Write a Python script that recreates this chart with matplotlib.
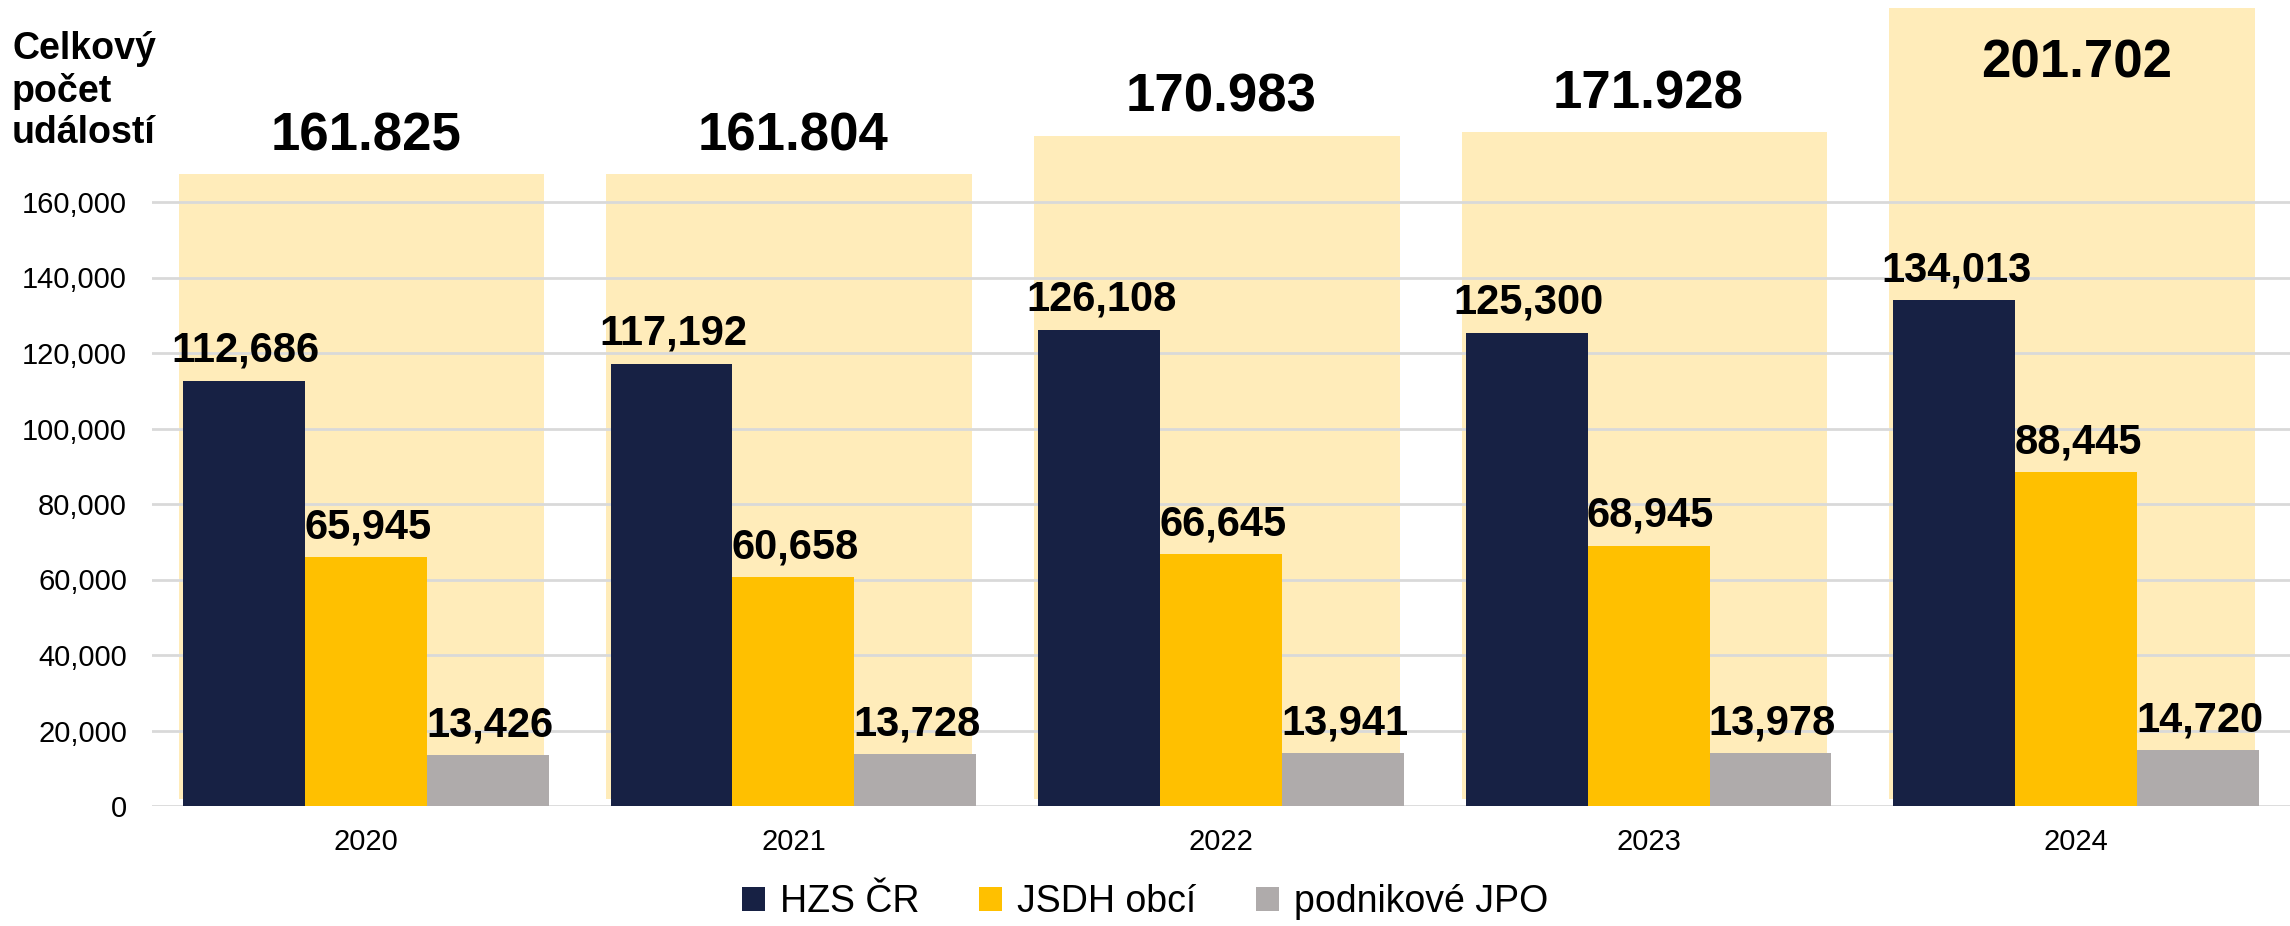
import matplotlib
matplotlib.use("Agg")
import matplotlib.pyplot as plt
from matplotlib.patches import Patch
import numpy as np

plt.rcParams['font.family'] = ['Liberation Sans', 'DejaVu Sans']

years = ["2020", "2021", "2022", "2023", "2024"]
hzs = [112686, 117192, 126108, 125300, 134013]
jsdh = [65945, 60658, 66645, 68945, 88445]
podnik = [13426, 13728, 13941, 13978, 14720]
totals = [161825, 161804, 170983, 171928, 201702]
series_names = ["HZS ČR", "JSDH obcí", "podnikové JPO"]
yticks = [0, 20000, 40000, 60000, 80000, 100000, 120000, 140000, 160000]

c_navy = "#172144"
c_gold = "#FFC000"
c_gray = "#AFABAB"
c_bg = "#FFECBA"
c_grid = "#D9D9D9"

W, H = 2290, 926
fig = plt.figure(figsize=(W / 100, H / 100), dpi=100)
ax_left = 152 / W
ax_bottom = (H - 806) / H
ax_height = 806 / H
ax = fig.add_axes([ax_left, ax_bottom, 1 - ax_left, ax_height])
ax2 = ax.twinx()
ax.set_zorder(ax2.get_zorder() + 1)
ax.patch.set_visible(False)

x = np.arange(len(years))
bw = 0.285

# background totals (secondary axis)
units_per_px = 240.0
y2_lo = 10182
y2lim = (y2_lo, y2_lo + 806 * units_per_px)
bg_bottom = y2_lo + 7 * units_per_px
ax2.bar(x - 0.01, np.array(totals) - bg_bottom, bottom=bg_bottom, width=0.855,
        color=c_bg, zorder=1)
ax2.set_ylim(*y2lim)
ax2.set_yticks([])
for s in ax2.spines.values():
    s.set_visible(False)

for xi, v in zip(x, totals):
    txt = f"{v:,}".replace(",", ".")
    top_px = (y2lim[1] - v) / units_per_px  # distance from figure top
    if top_px < 70:
        off = -(77 - top_px)
    else:
        off = 24
    ax2.annotate(txt, (xi, v), xytext=(0, off), textcoords="offset pixels",
                 ha="center", va="baseline", fontsize=38, fontweight="bold",
                 color="black", zorder=5)

# main bars
for i, (vals, col) in enumerate(zip([hzs, jsdh, podnik], [c_navy, c_gold, c_gray])):
    xs = x + (i - 1) * bw
    ax.bar(xs, vals, width=bw, color=col, zorder=3, label=series_names[i])
    for xi, v in zip(xs, vals):
        ax.annotate(f"{v:,}", (xi, v), xytext=(2, 19), textcoords="offset pixels",
                    ha="center", va="baseline", fontsize=30, fontweight="bold",
                    color="black", zorder=6)

ax.set_xlim(-0.5, 4.5)
ax.set_ylim(0, 806 / 3.775 * 1000)
ax.set_yticks(yticks)
ax.set_yticklabels([f"{t:,}" for t in yticks], fontsize=21)
ax.set_xticks(x)
ax.set_xticklabels(years, fontsize=21)
ax.tick_params(axis="both", length=0)
ax.tick_params(axis="y", pad=18)
ax.tick_params(axis="x", pad=16)
ax.yaxis.grid(True, color=c_grid, linewidth=2)
for gl in ax.get_ygridlines():
    gl.set_zorder(2)
for s in ax.spines.values():
    s.set_visible(False)

fig.text(12 / W, 1 - 31 / H, "Celkový\npočet\nudálostí", ha="left", va="top",
         fontsize=27, fontweight="bold", linespacing=1.2)

handles = [Patch(facecolor=c, edgecolor="none") for c in [c_navy, c_gold, c_gray]]
fig.legend(handles, series_names, loc="center", bbox_to_anchor=(0.5, (H - 902) / H),
           ncol=3, frameon=False, fontsize=27, handlelength=0.6, handleheight=0.6,
           handletextpad=0.4, columnspacing=1.6)

fig.savefig("out.png", dpi=100)
